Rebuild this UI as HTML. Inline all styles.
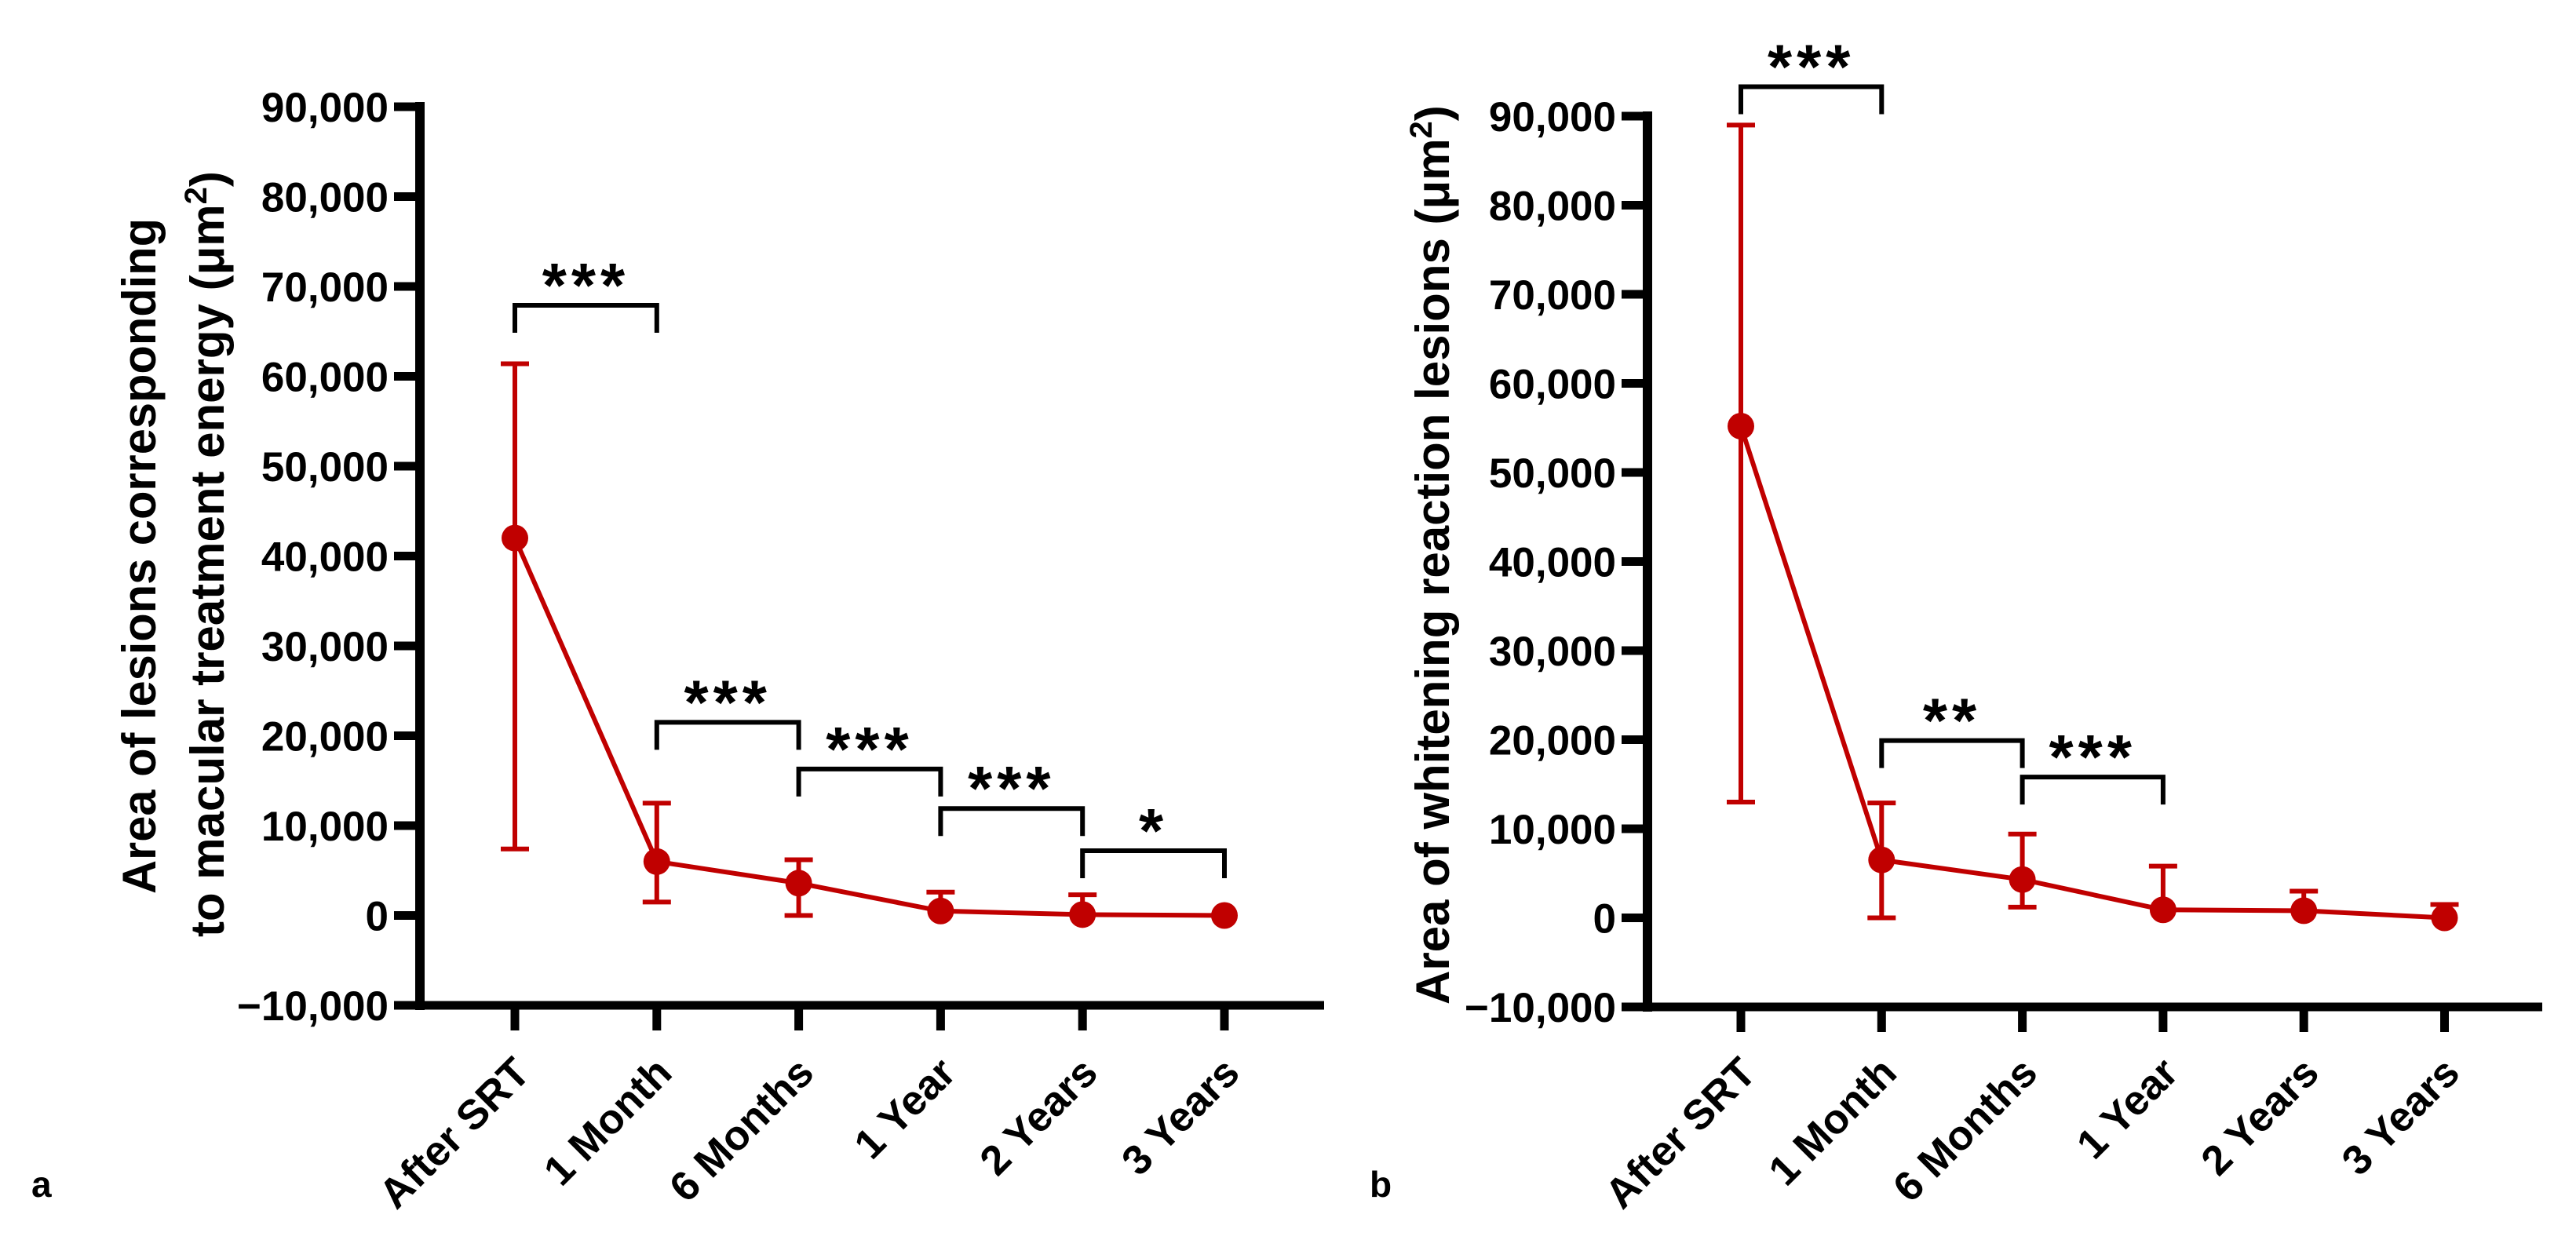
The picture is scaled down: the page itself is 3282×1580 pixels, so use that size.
<!DOCTYPE html>
<html><head><meta charset="utf-8"><style>
html,body{margin:0;padding:0;background:#fff}
svg{display:block}
text{font-family:"Liberation Sans",Arial,sans-serif;font-weight:bold;fill:#000}
</style></head><body>
<svg id="fig" width="3282" height="1580" viewBox="0 0 3282 1580" xmlns="http://www.w3.org/2000/svg">
<text x="40" y="1525" font-size="46">a</text>
<text x="1745" y="1525" font-size="46">b</text>
<text transform="translate(198,1139) rotate(-90)" font-size="60" textLength="861" lengthAdjust="spacingAndGlyphs">Area of lesions corresponding</text>
<text transform="translate(285,1194) rotate(-90)" font-size="60">to macular treatment energy (μm<tspan dy="-22" font-size="40">2</tspan><tspan dy="22">)</tspan></text>
<text transform="translate(1846,1280) rotate(-90)" font-size="60">Area of whitening reaction lesions (μm<tspan dy="-22" font-size="40">2</tspan><tspan dy="22">)</tspan></text>
<g id="pa"></g><g id="pb"></g>
</svg>
<script>
const categories = ["After SRT","1 Month","6 Months","1 Year","2 Years","3 Years"];
const yTicks = [-10000,0,10000,20000,30000,40000,50000,60000,70000,80000,90000];
const meanA = [42000,6000,3600,500,100,0];
const upperA = [61400,12500,6200,2600,2300,null];
const lowerA = [7400,1500,0,null,null,null];
const meanB = [55200,6500,4300,900,800,0];
const upperB = [89000,12900,9400,5800,3000,1500];
const lowerB = [13000,0,1200,null,null,null];
const sigFromA = [0,1,2,3,4];
const sigToA = [1,2,3,4,5];
const sigLabelA = ["***","***","***","***","*"];
const sigLevelA = [67900,21500,16300,11900,7200];
const sigFromB = [0,1,2];
const sigToB = [1,2,3];
const sigLabelB = ["***","**","***"];
const sigLevelB = [93300,19900,15800];
const NS="http://www.w3.org/2000/svg";
const RED="#c00000";
function mk(p,tag,attrs){const e=document.createElementNS(NS,tag);for(const k in attrs)e.setAttribute(k,attrs[k]);p.appendChild(e);return e;}
function panel(g,cfg,mean,up,lo,sf,st,sl,slev,pfx){
  const y=v=>cfg.y0+(v-(-10000))*(cfg.y1-cfg.y0)/100000;
  const x=i=>cfg.x0+i*cfg.dx;
  let a=mk(g,"line",{x1:cfg.ax,y1:cfg.y1-6,x2:cfg.ax,y2:cfg.y0+6,stroke:"#000","stroke-width":12});
  
  
  a=mk(g,"line",{x1:cfg.ax-6,y1:cfg.y0,x2:cfg.xend,y2:cfg.y0,stroke:"#000","stroke-width":11});
  
  
  yTicks.forEach(v=>{
    const t=mk(g,"line",{x1:cfg.ax-33,y1:y(v),x2:cfg.ax,y2:y(v),stroke:"#000","stroke-width":11});
    
    
    const l=mk(g,"text",{x:cfg.ax-40,y:y(v)+19,"text-anchor":"end","font-size":53});
    l.textContent=(v<0?"\u2212":"")+Math.abs(v).toLocaleString("en-US");
    
    
  });
  categories.forEach((c,i)=>{
    const t=mk(g,"line",{x1:x(i),y1:cfg.y0,x2:x(i),y2:cfg.y0+32,stroke:"#000","stroke-width":11});
    
    
    const tx=x(i)+22,ty=1370;
    const l=mk(g,"text",{x:tx,y:ty,"text-anchor":"end","font-size":53,transform:`rotate(-45 ${tx} ${ty})`});
    l.textContent=c;
    
    
  });
  mean.forEach((m,i)=>{
    [up[i],lo[i]].forEach(e=>{
      if(e===null)return;
      const b=mk(g,"path",{d:`M${x(i)} ${y(m)}V${y(e)}M${x(i)-18} ${y(e)}H${x(i)+18}`,stroke:RED,"stroke-width":6,fill:"none"});
      
      
    });
  });
  const pl=mk(g,"polyline",{points:mean.map((m,i)=>x(i)+","+y(m)).join(" "),stroke:RED,"stroke-width":6,fill:"none"});
  
  
  mean.forEach((m,i)=>{
    const c=mk(g,"circle",{cx:x(i),cy:y(m),r:17,fill:RED});
    
    
  });
  sf.forEach((f,k)=>{
    const x1=x(f),x2=x(st[k]),yy=y(slev[k]);
    const b=mk(g,"path",{d:`M${x1} ${yy+35}V${yy}H${x2}V${yy+35}`,stroke:"#000","stroke-width":6,fill:"none"});
    
    
    const s=mk(g,"text",{x:(x1+x2)/2,y:yy+2,"text-anchor":"middle","font-size":80,"letter-spacing":6});
    s.textContent=sl[k];
    
    
  });
}
panel(document.getElementById("pa"),{ax:535,x0:656,dx:180.8,xend:1687,y0:1281,y1:136},meanA,upperA,lowerA,sigFromA,sigToA,sigLabelA,sigLevelA,"panel-a");
panel(document.getElementById("pb"),{ax:2099,x0:2218,dx:179.3,xend:3239,y0:1283,y1:148},meanB,upperB,lowerB,sigFromB,sigToB,sigLabelB,sigLevelB,"panel-b");
</script>
</body></html>
